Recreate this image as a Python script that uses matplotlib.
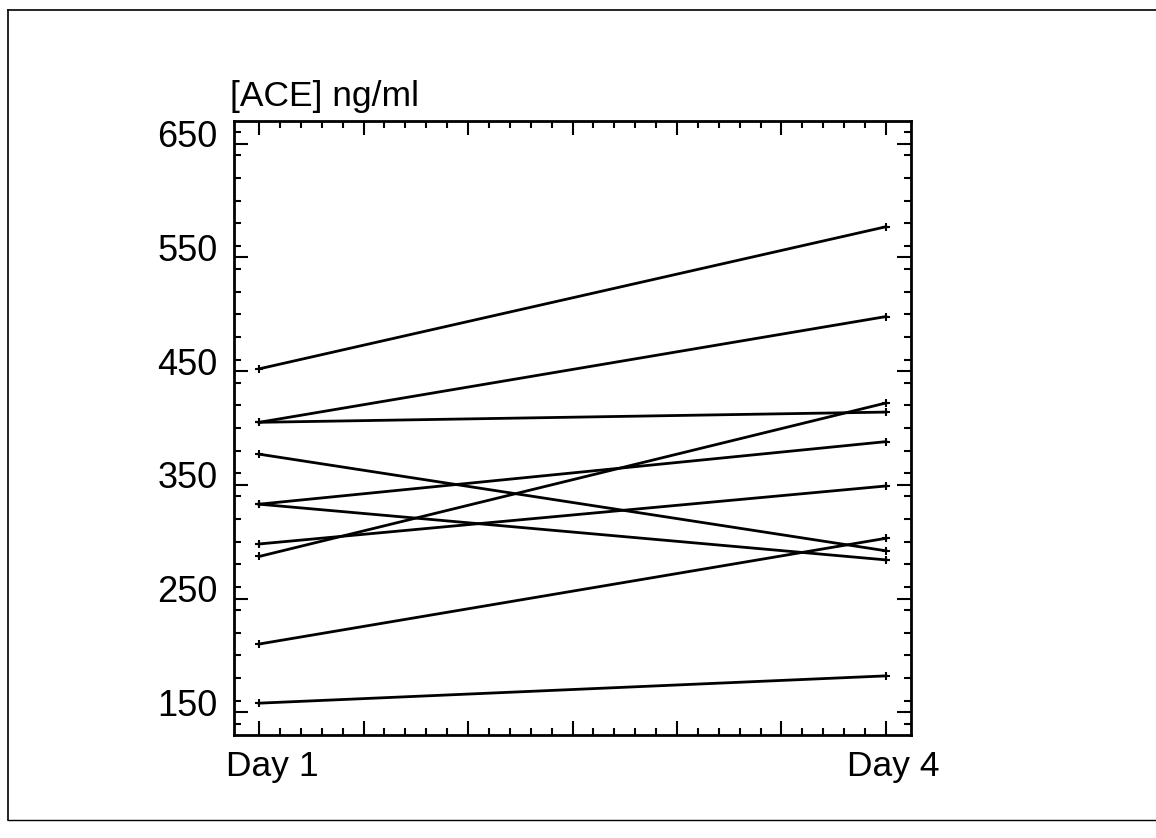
import matplotlib

matplotlib.use("Agg")
import matplotlib.pyplot as plt
import numpy as np
from matplotlib.lines import Line2D
from matplotlib.ticker import MultipleLocator, FixedLocator
from matplotlib.transforms import ScaledTranslation

plt.rcParams["font.family"] = ["Liberation Sans", "DejaVu Sans"]

# ACE concentration per subject, day 1 and day 4
days = [1, 4]
day1 = [452, 405, 405, 377, 333, 333, 298, 287, 210, 158]
day4 = [577, 498, 414, 292, 388, 284, 349, 422, 303, 182]

y_ticks = [150, 250, 350, 450, 550, 650]
x_ticks = [1, 1.5, 2, 2.5, 3, 3.5, 4]
x_labels = ["Day 1", "", "", "", "", "", "Day 4"]

fig = plt.figure(figsize=(11.56, 8.38), dpi=100)
ax = fig.add_axes([234 / 1156, 1 - 735 / 838, (911 - 234) / 1156, (735 - 121) / 838])

for a, b in zip(day1, day4):
    ax.plot(days, [a, b], color="black", lw=2.0, marker="+", ms=6, mew=1.5)

ax.set_xlim(0.88, 4.12)
ax.set_ylim(130, 670)

ax.yaxis.set_major_locator(FixedLocator(y_ticks))
ax.yaxis.set_minor_locator(MultipleLocator(20))
ax.xaxis.set_major_locator(FixedLocator(x_ticks))
ax.xaxis.set_minor_locator(FixedLocator(np.arange(1, 4.01, 0.1)))
ax.set_xticklabels(x_labels)

for sp in ax.spines.values():
    sp.set_linewidth(2.0)

ax.tick_params(which="both", direction="in", top=True, right=True, width=1.5, colors="black")
ax.tick_params(which="major", length=10)
ax.tick_params(which="minor", length=5)
ax.tick_params(axis="y", which="major", labelsize=26, pad=12)
ax.tick_params(axis="x", which="major", labelsize=25.5, pad=11)

# scanned original: labels sit slightly off their ticks
for lab in ax.get_yticklabels():
    lab.set_transform(lab.get_transform() + ScaledTranslation(0, 0.10, fig.dpi_scale_trans))
xl = ax.get_xticklabels()
xl[0].set_transform(xl[0].get_transform() + ScaledTranslation(0.13, 0, fig.dpi_scale_trans))
xl[-1].set_transform(xl[-1].get_transform() + ScaledTranslation(0.07, 0, fig.dpi_scale_trans))

fig.text(230 / 1156, 1 - 106 / 838, "[ACE] ng/ml", fontsize=25.5, ha="left", va="baseline")

# page frame
fig.add_artist(Line2D([8 / 1156, 1], [1 - 10 / 838] * 2, color="black", lw=1.2, transform=fig.transFigure))
fig.add_artist(Line2D([8 / 1156] * 2, [1 - 10 / 838, 1 - 820 / 838], color="black", lw=1.2, transform=fig.transFigure))
fig.add_artist(Line2D([8 / 1156, 1], [1 - 820 / 838] * 2, color="black", lw=1.0, transform=fig.transFigure))

fig.savefig("out.png", dpi=100)
